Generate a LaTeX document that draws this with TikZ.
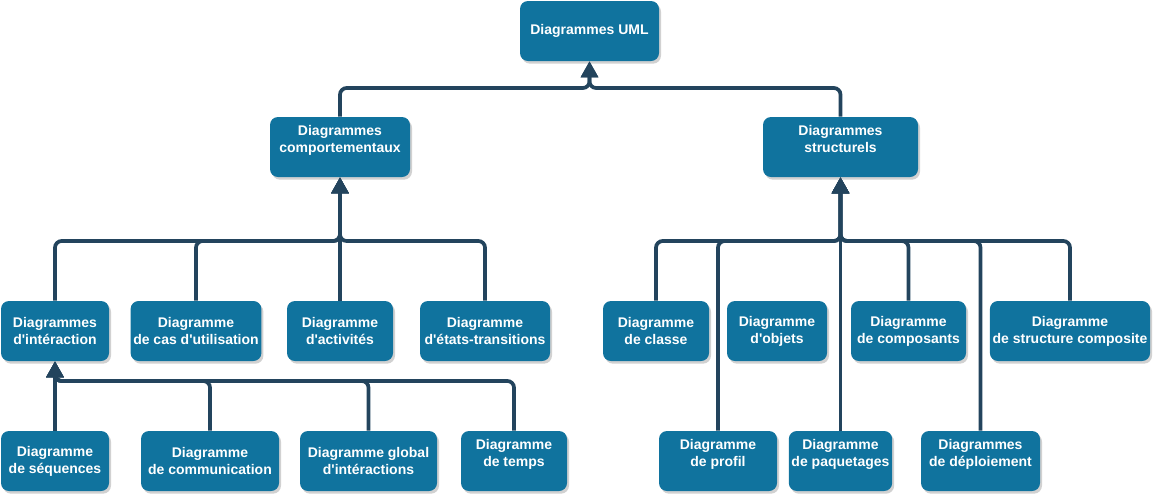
\documentclass[tikz,border=0pt]{standalone}
\usepackage{fontspec}
\setmainfont{Liberation Sans}
\usetikzlibrary{arrows.meta,shadows}
\definecolor{boxblue}{HTML}{10739E}
\definecolor{linenavy}{HTML}{23445D}
\newcommand{\ap}{\textquotesingle}
\begin{document}
\begin{tikzpicture}[x=0.75pt,y=-0.75pt,
  box/.style={rectangle, rounded corners=6pt, fill=boxblue, text=white,
    font=\fontsize{10.5}{12.75}\selectfont\bfseries, align=center,
    minimum height=45pt, inner sep=2pt,
    drop shadow={shadow xshift=1.5pt, shadow yshift=-2pt, opacity=0.3, fill=black!60}},
  bw/.style={minimum width=#1*0.75pt},
  conn/.style={draw=linenavy, line width=2.8pt, rounded corners=5pt,
    -{Triangle[length=12pt,width=12.5pt]}}
]
\useasboundingbox (0,0) rectangle (1153,494);
% nodes
\node[box,bw=139] (root) at (589.5,31) {Diagrammes UML};
\node[box,bw=140] (comp) at (340,147) {Diagrammes\\comportementaux\\\mbox{}};
\node[box,bw=155] (struct) at (840.5,147) {Diagrammes\\structurels\\\mbox{}};
\node[box,bw=108] (inter) at (55,331) {Diagrammes\\d\ap intéraction};
\node[box,bw=130] (cas) at (196,331) {Diagramme\\de cas d\ap utilisation};
\node[box,bw=106] (act) at (340,331) {Diagramme\\d\ap activités};
\node[box,bw=130] (etat) at (485,331) {Diagramme\\d\ap états-transitions};
\node[box,bw=108] (seq) at (55,461) {Diagramme\\de séquences};
\node[box,bw=138] (comm) at (210,461) {Diagramme\\de communication};
\node[box,bw=137] (glob) at (368.5,461) {Diagramme global\\d\ap intéractions};
\node[box,bw=106] (temps) at (514,461) {Diagramme\\de temps\\\mbox{}};
\node[box,bw=106] (classe) at (656,331) {Diagramme\\de classe};
\node[box,bw=100] (objets) at (777,331) {Diagramme\\d\ap objets};
\node[box,bw=115] (compo) at (908.5,331) {Diagramme\\de composants};
\node[box,bw=160] (struc) at (1070,331) {Diagramme\\de structure composite};
\node[box,bw=118] (profil) at (718,461) {Diagramme\\de profil\\\mbox{}};
\node[box,bw=97] (paq) at (840.5,461) {Diagramme\\de paquetages\\\mbox{}};
\node[box,bw=119] (depl) at (980.5,461) {Diagrammes\\de déploiement\\\mbox{}};
% bus levels
\coordinate (b0) at (0,88);
\coordinate (b1) at (0,241);
\coordinate (b2) at (0,381);
% level 1
\foreach \c in {comp,struct}
  \draw[conn] (\c.north) -- (\c.north |- b0) -- (root.south |- b0) -- (root.south);
% behavioural
\foreach \c in {inter,cas,act,etat}
  \draw[conn] (\c.north) -- (\c.north |- b1) -- (comp.south |- b1) -- (comp.south);
% interaction
\foreach \c in {seq,comm,glob,temps}
  \draw[conn] (\c.north) -- (\c.north |- b2) -- (inter.south |- b2) -- (inter.south);
% structural
\foreach \c in {classe,profil,paq,compo,depl,struc}
  \draw[conn] (\c.north) -- (\c.north |- b1) -- (struct.south |- b1) -- (struct.south);
\end{tikzpicture}
\end{document}
